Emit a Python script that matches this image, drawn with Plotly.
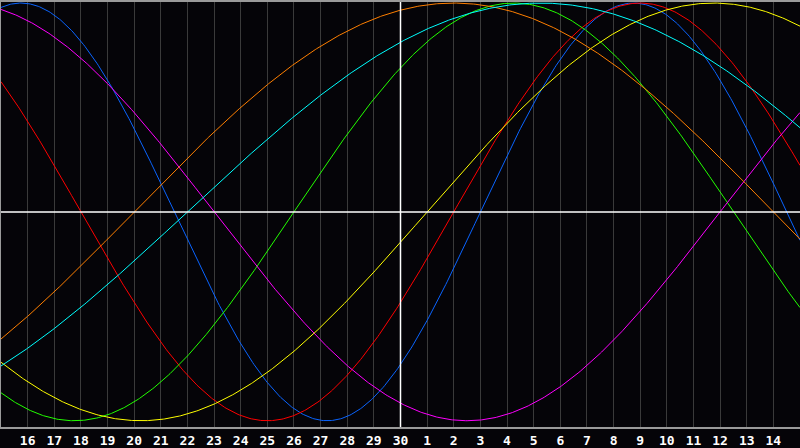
import numpy as np
import plotly.graph_objects as go

# biorhythm cycles: period (days) and day-in-cycle at the left edge
cycles = ['Physical', 'Emotional', 'Intellectual', 'Intuitive', 'Aesthetic', 'Awareness', 'Spiritual']
periods = [23, 28, 33, 38, 43, 48, 53]
start_day = [5, 11, 22, 11, 27, 43, 46]
colors = ['#0a64ff', '#ff0000', '#22ff00', '#ff00ff', '#ffff00', '#ff7f00', '#00ffff']

# day labels along the bottom (one per grid line)
day_labels = [str(d) for d in range(16, 31)] + [str(d) for d in range(1, 15)]
tick_pos = list(range(1, len(day_labels) + 1))
n_days = 30
today = 15

t = np.linspace(0, n_days, 601)

fig = go.Figure()
for name, p, s, c in zip(cycles, periods, start_day, colors):
    fig.add_trace(go.Scatter(
        x=t, y=np.sin(2 * np.pi * (t + s) / p),
        mode='lines', name=name,
        line=dict(color=c, width=1),
        hoverinfo='name+y',
    ))

# white cross: today and the zero line
fig.add_shape(type='line', xref='x', yref='paper', x0=today, x1=today, y0=0, y1=1,
              line=dict(color='white', width=1.5), layer='above')
fig.add_shape(type='line', xref='paper', yref='y', x0=0, x1=1, y0=0, y1=0,
              line=dict(color='white', width=1.5), layer='above')

fig.update_layout(
    width=800, height=448,
    margin=dict(l=1, r=0, t=1, b=17),
    paper_bgcolor='#050408',
    plot_bgcolor='#050408',
    showlegend=False,
    xaxis=dict(
        range=[0, n_days],
        tickvals=tick_pos, ticktext=day_labels,
        showgrid=True, gridcolor='#3a3a3a', gridwidth=1,
        zeroline=False,
        showline=True, linecolor='#9a9a9a', linewidth=1.5, mirror=True,
        ticks='', ticklabelstandoff=1,
        tickfont=dict(family='DejaVu Sans Mono', size=13, color='white', weight='bold'),
    ),
    yaxis=dict(
        range=[-1.03, 1.005],
        showgrid=False, zeroline=False, showticklabels=False,
        showline=True, linecolor='#9a9a9a', linewidth=1.5,
    ),
)

# drop the page's default body margin so the 800x448 figure fills the window
fig.write_html("out.html",
               config={'displayModeBar': False},
               post_script="document.body.style.margin='0';document.body.style.overflow='hidden';")
